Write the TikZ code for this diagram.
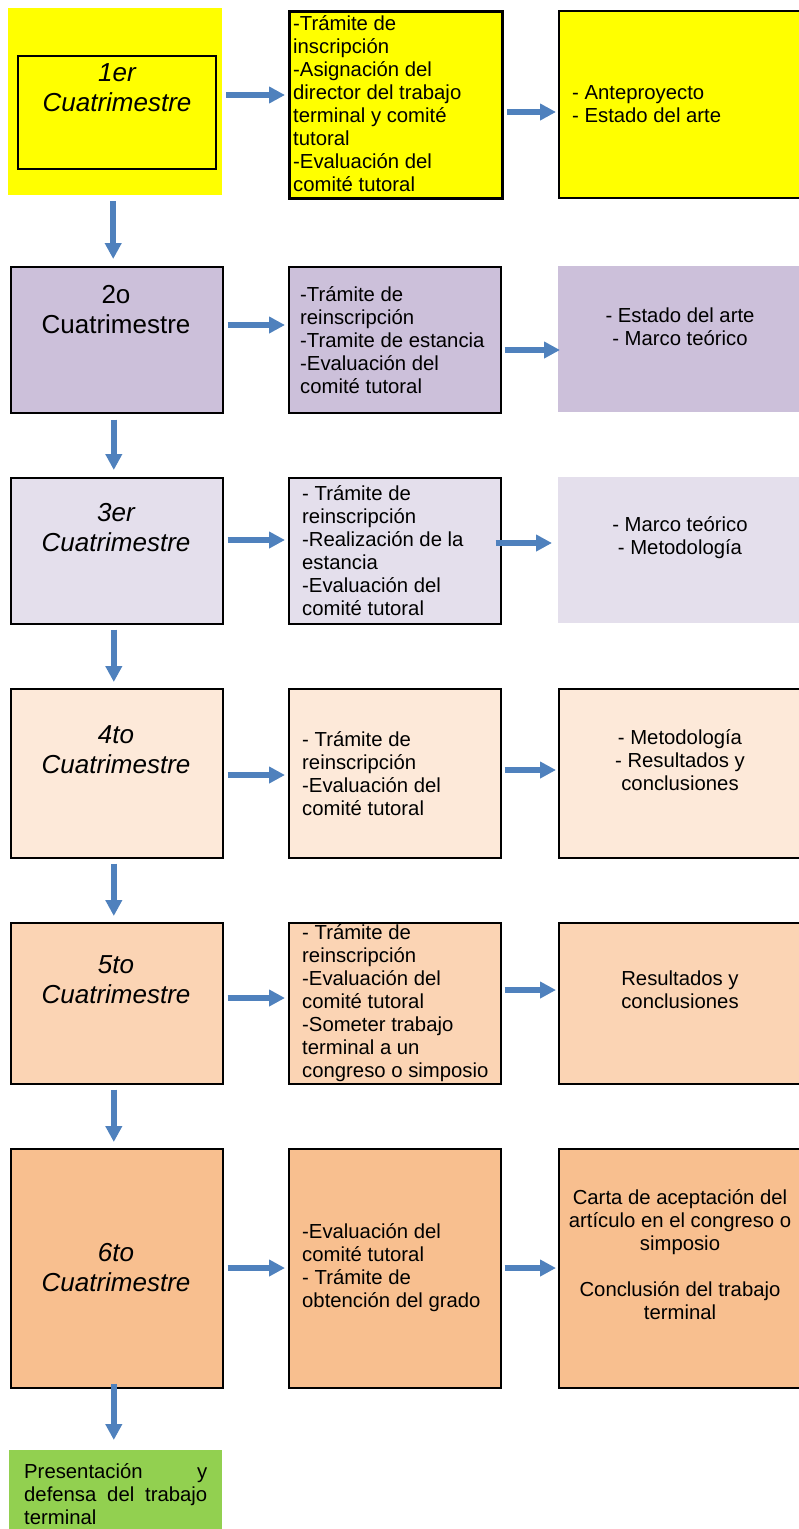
\documentclass[tikz,border=0pt]{standalone}
\usepackage{fontspec}
\setmainfont{Liberation Sans}
\usetikzlibrary{arrows.meta}
\definecolor{arrowblue}{HTML}{4F81BD}
\definecolor{cA}{HTML}{FFFF00}
\definecolor{cB}{HTML}{CCC0DA}
\definecolor{cC}{HTML}{E4DFEC}
\definecolor{cD}{HTML}{FDE9D9}
\definecolor{cE}{HTML}{FBD4B4}
\definecolor{cF}{HTML}{F8BF8F}
\definecolor{cG}{HTML}{92D050}
\tolerance=10000 \hyphenpenalty=10000 \hbadness=10000
\begin{document}
\begin{tikzpicture}[x=1pt,y=-1pt,
 box/.style={draw=black, line width=1.6pt, inner sep=0pt, anchor=north west},
 nobox/.style={draw=none, inner sep=0pt, anchor=north west},
 lefttxt/.style={font=\fontsize{26}{30}\selectfont, align=center, inner sep=0pt},
 midtxt/.style={font=\fontsize{20.3}{23}\selectfont, align=left, inner sep=0pt, anchor=west},
 righttxt/.style={font=\fontsize{20.3}{23}\selectfont, align=center, inner sep=0pt},
 arr/.style={draw=arrowblue, line width=5.5pt, -{Triangle[width=16pt,length=16pt]}}]
\useasboundingbox (0,0) rectangle (798,1529);
% row 1
\node[nobox, fill=cA, minimum width=214pt, minimum height=187pt] (l1) at (8,8) {};
\node[box, minimum width=198pt, minimum height=113pt] (l1i) at (17,55) {};
\node[box, line width=3pt, fill=cA, minimum width=213pt, minimum height=187pt] (m1) at (288,10) {};
\node[box, fill=cA, minimum width=244pt, minimum height=187pt] (r1) at (558,10) {};
% row 2
\node[box, fill=cB, minimum width=212pt, minimum height=146pt] (l2) at (10,266) {};
\node[box, fill=cB, minimum width=212pt, minimum height=146pt] (m2) at (288,266) {};
\node[nobox, fill=cB, minimum width=244pt, minimum height=146pt] (r2) at (558,266) {};
% row 3
\node[box, fill=cC, minimum width=212pt, minimum height=146pt] (l3) at (10,477) {};
\node[box, fill=cC, minimum width=212pt, minimum height=146pt] (m3) at (288,477) {};
\node[nobox, fill=cC, minimum width=244pt, minimum height=146pt] (r3) at (558,477) {};
% row 4
\node[box, fill=cD, minimum width=212pt, minimum height=169pt] (l4) at (10,688) {};
\node[box, fill=cD, minimum width=212pt, minimum height=169pt] (m4) at (288,688) {};
\node[box, fill=cD, minimum width=244pt, minimum height=169pt] (r4) at (558,688) {};
% row 5
\node[box, fill=cE, minimum width=212pt, minimum height=161pt] (l5) at (10,922) {};
\node[box, fill=cE, minimum width=212pt, minimum height=161pt] (m5) at (288,922) {};
\node[box, fill=cE, minimum width=244pt, minimum height=161pt] (r5) at (558,922) {};
% row 6
\node[box, fill=cF, minimum width=212pt, minimum height=239pt] (l6) at (10,1148) {};
\node[box, fill=cF, minimum width=212pt, minimum height=239pt] (m6) at (288,1148) {};
\node[box, fill=cF, minimum width=244pt, minimum height=239pt] (r6) at (558,1148) {};
% final
\node[nobox, fill=cG, minimum width=213pt, minimum height=80pt] (g) at (9,1450) {};

% texts
\node[lefttxt] (t1l) at (117,88) {\itshape 1er\\\itshape Cuatrimestre};
\node[midtxt] (t1m) at (293,104) {-Trámite de\\inscripción\\-Asignación del\\director del trabajo\\terminal y comité\\tutoral\\-Evaluación del\\comité tutoral};
\node[midtxt] (t1r) at (572,104.5) {- Anteproyecto\\- Estado del arte};

\node[lefttxt] (t2l) at (116,310) {2o\\Cuatrimestre};
\node[midtxt] (t2m) at (300,340) {-Trámite de\\reinscripción\\-Tramite de estancia\\-Evaluación del\\comité tutoral};
\node[righttxt] (t2r) at (680,326.5) {- Estado del arte\\- Marco teórico};

\node[lefttxt] (t3l) at (116,527.5) {\itshape 3er\\\itshape Cuatrimestre};
\node[midtxt] (t3m) at (302,550.5) {- Trámite de\\reinscripción\\-Realización de la\\estancia\\-Evaluación del\\comité tutoral};
\node[righttxt] (t3r) at (680,537.5) {- Marco teórico\\- Metodología};

\node[lefttxt] (t4l) at (116,750) {\itshape 4to\\\itshape Cuatrimestre};
\node[midtxt] (t4m) at (302,773.5) {- Trámite de\\reinscripción\\-Evaluación del\\comité tutoral};
\node[righttxt] (t4r) at (680,760) {- Metodología\\- Resultados y\\conclusiones};

\node[lefttxt] (t5l) at (116,980) {\itshape 5to\\\itshape Cuatrimestre};
\node[midtxt] (t5m) at (302,1003) {- Trámite de\\reinscripción\\-Evaluación del\\comité tutoral\\-Someter trabajo\\terminal a un\\congreso o simposio};
\node[righttxt] (t5r) at (680,990) {Resultados y\\conclusiones};

\node[lefttxt] (t6l) at (116,1268) {\itshape 6to\\\itshape Cuatrimestre};
\node[midtxt] (t6m) at (302,1267.5) {-Evaluación del\\comité tutoral\\- Trámite de\\obtención del grado};
\node[righttxt] (t6r) at (680,1254.5) {Carta de aceptación del\\artículo en el congreso o\\simposio\\[23pt]Conclusión del trabajo\\terminal};

\node[midtxt, text width=183pt, align=justify] (tg) at (24,1494.5) {Presentación y defensa del trabajo terminal};

% vertical arrows
\draw[arr, shorten <=6pt, shorten >=7pt] ([xshift=-2pt]l1.south) -- ([xshift=-2pt]l1.south |- l2.north);
\draw[arr, shorten <=6pt, shorten >=7pt] ([xshift=-3pt]l2.south) -- ([xshift=-3pt]l3.north);
\draw[arr, shorten <=5pt, shorten >=6pt] ([xshift=-3pt]l3.south) -- ([xshift=-3pt]l4.north);
\draw[arr, shorten <=5pt, shorten >=6pt] ([xshift=-3pt]l4.south) -- ([xshift=-3pt]l5.north);
\draw[arr, shorten <=5pt, shorten >=6pt] ([xshift=-3pt]l5.south) -- ([xshift=-3pt]l6.north);
\draw[arr, shorten <=-5pt, shorten >=10pt] ([xshift=-3pt]l6.south) -- ([xshift=-3pt]l6.south |- g.north);

% horizontal arrows
\draw[arr, shorten <=4pt, shorten >=3pt] (l1.east |- 0,95) -- (m1.west |- 0,95);
\draw[arr, shorten <=3pt, shorten >=2pt] (m1.east |- 0,112) -- (r1.west |- 0,112);
\draw[arr, shorten <=4pt, shorten >=3pt] (l2.east |- 0,325) -- (m2.west |- 0,325);
\draw[arr, shorten <=3pt, shorten >=-2pt] (m2.east |- 0,350) -- (r2.west |- 0,350);
\draw[arr, shorten <=4pt, shorten >=3pt] (l3.east |- 0,540) -- (m3.west |- 0,540);
\draw[arr, shorten <=-6pt, shorten >=6pt] (m3.east |- 0,543) -- (r3.west |- 0,543);
\draw[arr, shorten <=4pt, shorten >=3pt] (l4.east |- 0,775) -- (m4.west |- 0,775);
\draw[arr, shorten <=3pt, shorten >=2pt] (m4.east |- 0,770) -- (r4.west |- 0,770);
\draw[arr, shorten <=4pt, shorten >=3pt] (l5.east |- 0,998) -- (m5.west |- 0,998);
\draw[arr, shorten <=3pt, shorten >=2pt] (m5.east |- 0,990) -- (r5.west |- 0,990);
\draw[arr, shorten <=4pt, shorten >=3pt] (l6.east |- 0,1268) -- (m6.west |- 0,1268);
\draw[arr, shorten <=3pt, shorten >=2pt] (m6.east |- 0,1268) -- (r6.west |- 0,1268);
\end{tikzpicture}
\end{document}
